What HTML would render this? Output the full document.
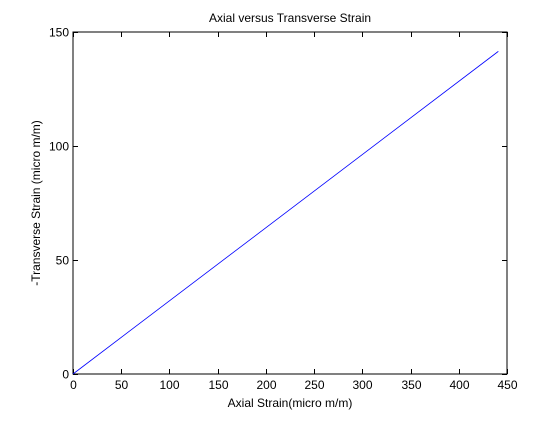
<!DOCTYPE html>
<html><head><meta charset="utf-8"><style>
body{margin:0;background:#fff}
svg text{font-family:"Liberation Sans",Arial,sans-serif;font-size:12px;fill:#000}
</style></head><body>
<svg width="560" height="420" xmlns="http://www.w3.org/2000/svg">
<rect x="0" y="0" width="560" height="420" fill="#fff"/>
<g id="g"></g>
</svg>
<script>
const xTicks=[0,50,100,150,200,250,300,350,400,450];
const yTicks=[0,50,100,150];
const axialStrain=[0,441];
const transverseStrain=[0,141.5];
const L=73,R=507,T=32,B=374;
const sx=v=>L+v/450*(R-L), sy=v=>B-v/150*(B-T);
const g=document.getElementById('g');const NS='http://www.w3.org/2000/svg';
function mk(t,a,txt){const e=document.createElementNS(NS,t);for(const k in a)e.setAttribute(k,a[k]);if(txt!==undefined)e.textContent=txt;g.appendChild(e);return e;}
let e=mk('rect',{x:L,y:T,width:R-L,height:B-T,fill:'#fff',stroke:'#000','stroke-width':1});


xTicks.forEach(v=>{const x=Math.round(sx(v))+0.5;
mk('line',{x1:x,x2:x,y1:B,y2:B-5,stroke:'#000'});mk('line',{x1:x,x2:x,y1:T,y2:T+5,stroke:'#000'});
const t=mk('text',{x:x,y:B+15,'text-anchor':'middle'},v);

});
yTicks.forEach(v=>{const y=Math.round(sy(v))+0.5;
mk('line',{x1:L,x2:L+5,y1:y,y2:y,stroke:'#000'});mk('line',{x1:R,x2:R-5,y1:y,y2:y,stroke:'#000'});
const t=mk('text',{x:L-4,y:y+4,'text-anchor':'end'},v);

});
const pts=axialStrain.map((v,i)=>sx(v)+','+sy(transverseStrain[i])).join(' ');
e=mk('polyline',{points:pts,fill:'none',stroke:'#0000ff','stroke-width':0.8});


e=mk('text',{x:290,y:22,'text-anchor':'middle'},'Axial versus Transverse Strain');


e=mk('text',{x:290,y:407,'text-anchor':'middle'},'Axial Strain(micro m/m)');


e=mk('text',{x:40,y:203,'text-anchor':'middle',transform:'rotate(-90 40 203)'},'-Transverse Strain (micro m/m)');


</script>
</body></html>
